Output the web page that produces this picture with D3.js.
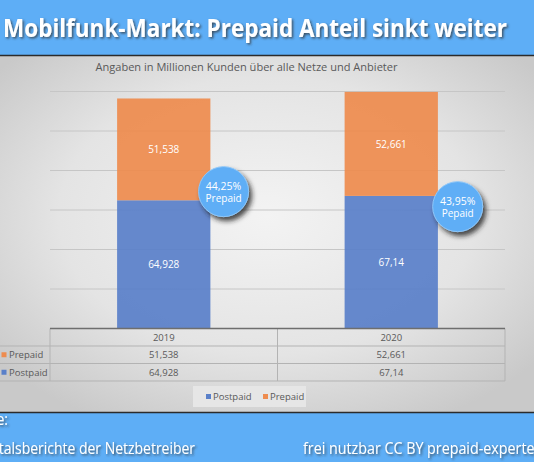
<!DOCTYPE html>
<html>
<head>
<meta charset="utf-8">
<script src="https://cdn.jsdelivr.net/npm/d3@7"></script>
<style>
  html, body { margin: 0; padding: 0; background: #5eaef6; }
  svg { display: block; }
  text { font-family: "Open Sans", "Noto Sans", sans-serif; }
</style>
</head>
<body>
<svg id="chart" width="534" height="462"></svg>
<script>
const jahre     = ["2019", "2020"];
const postpaid  = [64.928, 67.14];
const prepaid   = [51.538, 52.661];
const anteil    = ["44,25%", "43,95%"];
const anteilTxt = ["Prepaid", "Pepaid"];
const bubbleWert = [69.3, 61.7];          // Höhe der Blase im Wertebereich
const yTicks    = [0, 20, 40, 60, 80, 100, 120];
const serien    = ["Postpaid", "Prepaid"];

const width = 534, height = 462;
const farbe = { Postpaid: "#5a80c9", Prepaid: "#ee8c4f" };
const blau = "#5eaef6";

const de = d3.formatLocale({ decimal: ",", thousands: ".", grouping: [3], currency: ["", "€"] });
const fmt = de.format("~g");

const svg = d3.select("#chart");
const defs = svg.append("defs");

const grad = defs.append("radialGradient").attr("id", "bg")
    .attr("cx", "50%").attr("cy", "45%").attr("r", "65%");
grad.append("stop").attr("offset", "0%").attr("stop-color", "#f3f3f3");
grad.append("stop").attr("offset", "60%").attr("stop-color", "#e4e4e4");
grad.append("stop").attr("offset", "100%").attr("stop-color", "#c9c9c9");

defs.append("filter").attr("id", "tshadow").attr("x", "-5%").attr("y", "-20%").attr("width", "110%").attr("height", "150%")
    .append("feDropShadow").attr("dx", 1.5).attr("dy", 1.5).attr("stdDeviation", 1)
    .attr("flood-color", "#333").attr("flood-opacity", 0.75);

defs.append("filter").attr("id", "bshadow").attr("x", "-40%").attr("y", "-40%").attr("width", "190%").attr("height", "190%")
    .append("feDropShadow").attr("dx", 3).attr("dy", 4).attr("stdDeviation", 2.5)
    .attr("flood-color", "#222").attr("flood-opacity", 0.8);

// Hintergrund
svg.append("rect").attr("width", width).attr("height", height).attr("fill", blau);
svg.append("rect").attr("x", 0).attr("y", 56).attr("width", width).attr("height", 356).attr("fill", "url(#bg)");
svg.append("line").attr("x1", 0).attr("x2", width).attr("y1", 55.5).attr("y2", 55.5).attr("stroke", "#2b2b2b").attr("stroke-width", 1.5);
svg.append("line").attr("x1", 0).attr("x2", width).attr("y1", 412.5).attr("y2", 412.5).attr("stroke", "#2b2b2b").attr("stroke-width", 1.5);

// Titel
svg.append("text").attr("x", 3).attr("y", 37)
    .attr("fill", "#fff").attr("font-size", 25).attr("font-weight", 700)
    .attr("textLength", 504).attr("lengthAdjust", "spacingAndGlyphs")
    .attr("filter", "url(#tshadow)")
    .text("Mobilfunk-Markt: Prepaid Anteil sinkt weiter");

svg.append("text").attr("x", 246.5).attr("y", 71).attr("text-anchor", "middle")
    .attr("fill", "#595959").attr("font-size", 11)
    .attr("textLength", 302).attr("lengthAdjust", "spacingAndGlyphs")
    .text("Angaben in Millionen Kunden über alle Netze und Anbieter");

// Skalen
const x = d3.scaleBand().domain(jahre).range([50, 505]);
const y = d3.scaleLinear().domain([0, 120]).range([328.5, 91.5]);
const barW = x.bandwidth() * 0.41;

// Gitterlinien
svg.append("g").selectAll("line")
    .data(yTicks.slice(1))
    .join("line")
    .attr("x1", 50).attr("x2", 505)
    .attr("y1", d => y(d)).attr("y2", d => y(d))
    .attr("stroke", "#c6c6c6").attr("stroke-width", 1);

// Balken
const daten = jahre.map((j, i) => ({ jahr: j, Postpaid: postpaid[i], Prepaid: prepaid[i] }));
const stack = d3.stack().keys(serien)(daten);

const gBars = svg.append("g");
stack.forEach(s => {
    gBars.selectAll(".b-" + s.key)
        .data(s)
        .join("rect")
        .attr("x", d => x(d.data.jahr) + (x.bandwidth() - barW) / 2)
        .attr("width", barW)
        .attr("y", d => y(d[1]))
        .attr("height", d => y(d[0]) - y(d[1]))
        .attr("fill", farbe[s.key])
        .attr("fill-opacity", 0.93);
    gBars.selectAll(".l-" + s.key)
        .data(s)
        .join("text")
        .attr("x", d => x(d.data.jahr) + x.bandwidth() / 2)
        .attr("y", d => (y(d[0]) + y(d[1])) / 2 + 4)
        .attr("text-anchor", "middle")
        .attr("fill", "#fff").attr("font-size", 10)
        .text(d => fmt(d.data[s.key]));
});

// Blasen
const gBub = svg.append("g");
const bubDx = [0.263, 0.292];
jahre.forEach((j, i) => {
    const cx = x(j) + x.bandwidth() / 2 + bubDx[i] * x.bandwidth();
    const cy = y(bubbleWert[i]);
    gBub.append("circle").attr("cx", cx).attr("cy", cy).attr("r", 25)
        .attr("fill", blau).attr("stroke", "#8ec6f8").attr("stroke-width", 1)
        .attr("filter", "url(#bshadow)");
    gBub.append("text").attr("x", cx).attr("y", cy - 2).attr("text-anchor", "middle")
        .attr("fill", "#fff").attr("font-size", 10.5).text(anteil[i]);
    gBub.append("text").attr("x", cx).attr("y", cy + 10).attr("text-anchor", "middle")
        .attr("fill", "#fff").attr("font-size", 10).text(anteilTxt[i]);
});

// Datentabelle
const zeilen = ["kopf", "Prepaid", "Postpaid"];
const r = d3.scaleBand().domain(zeilen).range([328.5, 381]);
const gTab = svg.append("g");
gTab.selectAll(".h").data(zeilen.slice(1).concat(["ende"]))
    .join("line")
    .attr("x1", 0).attr("x2", 505)
    .attr("y1", d => d === "ende" ? 381 : r(d)).attr("y2", d => d === "ende" ? 381 : r(d))
    .attr("stroke", "#b3b3b3").attr("stroke-width", 1);
gTab.selectAll(".v").data(jahre.concat(["rechts"]))
    .join("line")
    .attr("x1", d => d === "rechts" ? 505 : x(d)).attr("x2", d => d === "rechts" ? 505 : x(d))
    .attr("y1", 328.5).attr("y2", 381)
    .attr("stroke", "#b3b3b3").attr("stroke-width", 1);
gTab.append("line").attr("x1", 50).attr("x2", 505).attr("y1", 328.5).attr("y2", 328.5)
    .attr("stroke", "#6e6e6e").attr("stroke-width", 1.3);

gTab.selectAll(".jahr").data(jahre).join("text")
    .attr("x", d => x(d) + x.bandwidth() / 2)
    .attr("y", r("kopf") + r.bandwidth() / 2 + 3.5)
    .attr("text-anchor", "middle").attr("fill", "#595959").attr("font-size", 9.5)
    .text(d => d);

["Prepaid", "Postpaid"].forEach(k => {
    const werte = k === "Prepaid" ? prepaid : postpaid;
    const ym = r(k) + r.bandwidth() / 2;
    gTab.append("rect").attr("x", 1.5).attr("y", ym - 2.5).attr("width", 5).attr("height", 5).attr("fill", farbe[k]);
    gTab.append("text").attr("x", 9).attr("y", ym + 3.5).attr("fill", "#595959").attr("font-size", 9.5).text(k);
    gTab.selectAll(".w-" + k).data(jahre).join("text")
        .attr("x", d => x(d) + x.bandwidth() / 2)
        .attr("y", ym + 3.5)
        .attr("text-anchor", "middle").attr("fill", "#595959").attr("font-size", 9.5)
        .text((d, i) => fmt(werte[i]));
});

// Legende
const gLeg = svg.append("g");
gLeg.append("rect").attr("x", 193).attr("y", 386).attr("width", 113).attr("height", 21).attr("fill", "#e6e6e6");
const legX = [206, 263];
serien.forEach((s, i) => {
    gLeg.append("rect").attr("x", legX[i]).attr("y", 394).attr("width", 5).attr("height", 5).attr("fill", farbe[s]);
    gLeg.append("text").attr("x", legX[i] + 7).attr("y", 400).attr("fill", "#595959").attr("font-size", 9.5).text(s);
});

// Fußzeile
const fuss = svg.append("g").attr("fill", "#fff").attr("font-size", 16).attr("filter", "url(#tshadow)");
fuss.append("text").attr("x", 8).attr("y", 425).attr("text-anchor", "end")
    .attr("textLength", 46).attr("lengthAdjust", "spacingAndGlyphs").text("Quelle:");
fuss.append("text").attr("x", 195).attr("y", 454).attr("text-anchor", "end")
    .attr("textLength", 229).attr("lengthAdjust", "spacingAndGlyphs").text("Quartalsberichte der Netzbetreiber");
fuss.append("text").attr("x", 303).attr("y", 454)
    .attr("textLength", 252).attr("lengthAdjust", "spacingAndGlyphs").text("frei nutzbar CC BY prepaid-experte.de");
</script>
</body>
</html>
